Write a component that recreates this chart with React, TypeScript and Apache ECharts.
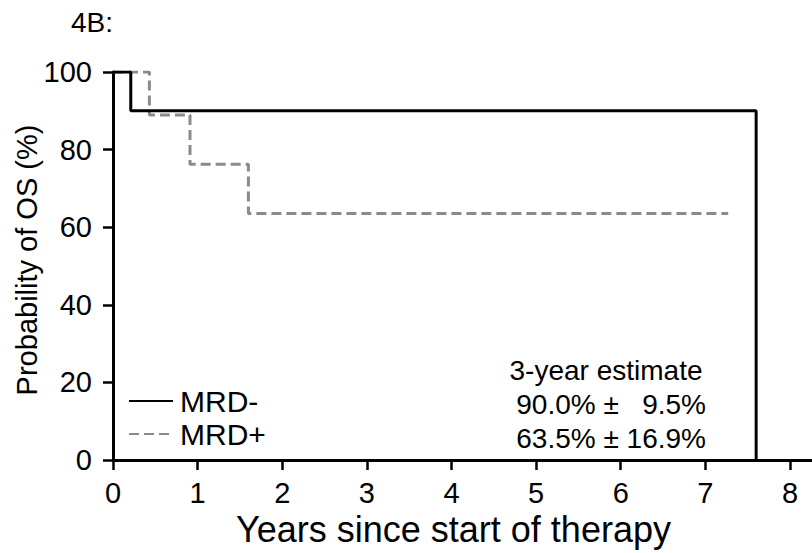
import React, { useEffect, useRef } from "react";
import * as echarts from "echarts";

const FONT = "'Liberation Sans', Arial, Helvetica, sans-serif";

const xTicks = [0, 1, 2, 3, 4, 5, 6, 7, 8];
const xMax = 8.26;
const yTicks = [0, 20, 40, 60, 80, 100];
const seriesNames = ["MRD-", "MRD+"];
const mrdNegTimes = [0, 0.21, 7.6, 7.6];
const mrdNegSurv = [100, 90, 90, 0];
const mrdPosTimes = [0, 0.43, 0.91, 1.6, 7.27];
const mrdPosSurv = [100, 88.9, 76.2, 63.5, 63.5];
const estimateTitle = "3-year estimate";
const estimates = ["90.0% ±   9.5%", "63.5% ± 16.9%"];
const panelLabel = "4B:";
const xTitle = "Years since start of therapy";
const yTitle = "Probability of OS (%)";

const zip = (xs: number[], ys: number[]) => xs.map((x, i) => [x, ys[i]]);

export default function App() {
  const ref = useRef<HTMLDivElement>(null);
  useEffect(() => {
    if (!ref.current) return;
    const chart = echarts.init(ref.current, undefined, { renderer: "svg" });
    chart.setOption({
      animation: false,
      backgroundColor: "#fff",
      textStyle: { fontFamily: FONT },
      grid: { left: 113, top: 72, right: 0, bottom: 93, containLabel: false, outerBoundsMode: "none" },
      legend: {
        data: seriesNames,
        orient: "vertical",
        left: 128,
        top: 386,
        padding: 0,
        itemWidth: 44,
        itemHeight: 14,
        itemGap: 3,
        itemStyle: { color: "rgba(0,0,0,0)", borderColor: "rgba(0,0,0,0)", borderWidth: 0 },
        textStyle: { fontSize: 30, color: "#000", lineHeight: 30, fontFamily: FONT, padding: [0, 0, 0, 2] },
      },
      xAxis: {
        type: "value",
        min: 0,
        max: xMax,
        axisLine: { show: true, lineStyle: { color: "#000", width: 3 } },
        axisTick: { show: true, length: 10, customValues: xTicks, lineStyle: { color: "#000", width: 2.5 } },
        axisLabel: { customValues: xTicks, fontSize: 29, lineHeight: 22, color: "#000", margin: 22, fontFamily: FONT },
        splitLine: { show: false },
        name: xTitle,
        nameLocation: "middle",
        nameGap: 57,
        nameMoveOverlap: false,
        nameTextStyle: { fontSize: 36, lineHeight: 24, color: "#000", fontFamily: FONT, padding: [0, 18, 0, 0] },
      },
      yAxis: {
        type: "value",
        min: 0,
        max: 100,
        interval: 20,
        axisLine: { show: true, lineStyle: { color: "#000", width: 3 } },
        axisTick: { show: true, length: 10, customValues: yTicks, lineStyle: { color: "#000", width: 2.5 } },
        axisLabel: { customValues: yTicks, fontSize: 29, color: "#000", margin: 21, fontFamily: FONT },
        splitLine: { show: false },
        name: yTitle,
        nameLocation: "middle",
        nameGap: 72,
        nameRotate: 90,
        nameMoveOverlap: false,
        nameTextStyle: { fontSize: 29, color: "#000", fontFamily: FONT, padding: [0, 0, 0, 12] },
      },
      series: [
        {
          name: seriesNames[0],
          type: "line",
          step: "end",
          symbol: "none",
          z: 3,
          data: zip(mrdNegTimes, mrdNegSurv),
          lineStyle: { color: "#000", width: 3, type: "solid" },
          itemStyle: { color: "#000" },
        },
        {
          name: seriesNames[1],
          type: "line",
          step: "end",
          symbol: "none",
          z: 2,
          data: zip(mrdPosTimes, mrdPosSurv),
          lineStyle: { color: "#8a8a8a", width: 3, type: [10, 5] },
          itemStyle: { color: "#8a8a8a" },
        },
      ],
      graphic: [
        {
          type: "text",
          left: 71,
          top: 8,
          style: { text: panelLabel, fontSize: 28, fill: "#000", fontFamily: FONT },
        },
        {
          type: "text",
          x: 606,
          y: 370,
          style: { text: estimateTitle, fontSize: 28, fill: "#000", fontFamily: FONT, align: "center", verticalAlign: "middle" },
        },
        ...estimates.map((t, i) => ({
          type: "text",
          x: 706,
          y: 404 + i * 34,
          style: { text: t, fontSize: 28, fill: "#000", fontFamily: FONT, align: "right", verticalAlign: "middle" },
        })),
      ],
    });
    return () => chart.dispose();
  }, []);
  return (
    <div
      ref={ref}
      style={{ position: "fixed", left: 0, top: 0, width: 812, height: 553, background: "#fff" }}
    />
  );
}
